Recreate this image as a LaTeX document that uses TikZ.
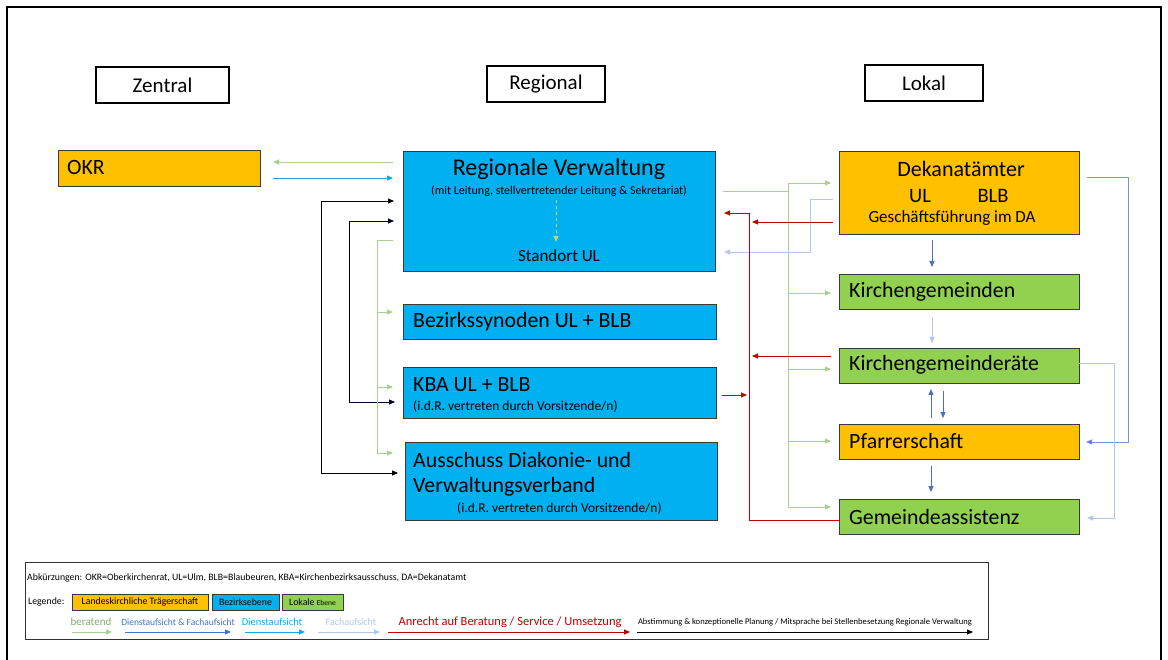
\documentclass[tikz,border=0pt]{standalone}
\usepackage{fontspec}
\setmainfont{Carlito}
\usetikzlibrary{arrows.meta,calc}

\definecolor{okrorange}{HTML}{FFC000}
\definecolor{bezblue}{HTML}{00B0F0}
\definecolor{lokgreen}{HTML}{92D050}
\definecolor{cberat}{HTML}{A9D18E}
\definecolor{cdfa}{HTML}{4472C4}
\definecolor{cdienst}{HTML}{1AA7E6}
\definecolor{cfach}{HTML}{B4C7E7}
\definecolor{canr}{HTML}{C00000}
\definecolor{cedge}{HTML}{3A3A3A}
\definecolor{cdash}{HTML}{BCD67A}

\newcommand\szhead{\fontsize{21}{25}\selectfont}
\newcommand\szbox{\fontsize{21.8}{26}\selectfont}
\newcommand\sztitle{\fontsize{24}{28}\selectfont}
\newcommand\szsub{\fontsize{12}{14}\selectfont}
\newcommand\szsubb{\fontsize{13.5}{16}\selectfont}
\newcommand\szmid{\fontsize{17}{20}\selectfont}
\newcommand\szleg{\fontsize{9.8}{12}\selectfont}

\tikzset{
  lvl/.style={draw=cedge, line width=0.9pt, inner sep=0pt, outer sep=0pt, anchor=north west},
  hdr/.style={draw=black, line width=1.3pt, inner sep=0pt, outer sep=0pt, anchor=north west, font=\szhead},
  lbl/.style={inner sep=0pt, anchor=west, font=\szbox},
  ctr/.style={inner sep=0pt, anchor=center},
  tip/.style={-{Triangle[length=6pt,width=5pt]}},
  ber/.style={draw=cberat, line width=0.9pt},
  dfa/.style={draw=cdfa, line width=0.9pt},
  fach/.style={draw=cfach, line width=0.9pt},
  anr/.style={draw=canr, line width=0.9pt},
  abst/.style={draw=black, line width=0.9pt},
  legtxt/.style={inner sep=0pt, anchor=center, font=\szleg},
}

\begin{document}
\begin{tikzpicture}[x=1pt,y=-1pt]
\useasboundingbox (0,0) rectangle (1168,660);
\fill[white] (0,0) rectangle (1168,660);

% outer frame
\draw[line width=1.5pt] (7,662) -- (7,7) -- (1161,7) -- (1161,662);

% level headings
\node[hdr, minimum width=133, minimum height=36] (hz) at (96,67) {Zentral};
\node[hdr, minimum width=118, minimum height=36] (hr) at (487,66) {Regional};
\node[hdr, minimum width=118, minimum height=36] (hl) at (865,65) {Lokal};

% central level
\node[lvl, fill=okrorange, minimum width=202, minimum height=36] (okr) at (58,150) {};
\node[lbl] (okrt) at (67,168) {OKR};

% regional level
\node[lvl, fill=bezblue, minimum width=312, minimum height=120] (rv) at (403,151) {};
\node[ctr, font=\sztitle] (rvt) at (559,169) {Regionale Verwaltung};
\node[ctr, font=\szsub] (rvs) at (559,191) {(mit Leitung, stellvertretender Leitung \& Sekretariat)};
\node[ctr, font=\szmid] (rvu) at (559,256) {Standort UL};

\node[lvl, fill=bezblue, minimum width=313, minimum height=35] (bez) at (403,304) {};
\node[lbl] (bezt) at (413,322) {Bezirkssynoden UL + BLB};

\node[lvl, fill=bezblue, minimum width=313, minimum height=51] (kba) at (403,367) {};
\node[lbl] (kbat) at (413,385) {KBA UL + BLB};
\node[lbl, font=\szsubb] (kbas) at (413,406) {(i.d.R. vertreten durch Vorsitzende/n)};

\node[lvl, fill=bezblue, minimum width=312, minimum height=78] (aus) at (405,442) {};
\node[lbl] (aust) at (413,460) {Ausschuss Diakonie- und};
\node[lbl] (ausu) at (413,487) {Verwaltungsverband};
\node[lbl, font=\szsubb] (auss) at (457,508) {(i.d.R. vertreten durch Vorsitzende/n)};

% local level
\node[lvl, fill=okrorange, minimum width=240, minimum height=83] (dek) at (839,151) {};
\node[ctr, font=\fontsize{22}{26}\selectfont] (dekt) at (961,169) {Dekanatämter};
\node[ctr, font=\fontsize{20.5}{24}\selectfont] (deku) at (920,196) {UL};
\node[ctr, font=\fontsize{20.5}{24}\selectfont] (dekb) at (993,196) {BLB};
\node[ctr, font=\fontsize{17}{20}\selectfont] (dekg) at (952,218) {Geschäftsführung im DA};

\node[lvl, fill=lokgreen, minimum width=240, minimum height=35] (kg) at (839,274) {};
\node[lbl] (kgt) at (849,292) {Kirchengemeinden};
\node[lvl, fill=lokgreen, minimum width=240, minimum height=35] (kgr) at (839,348) {};
\node[lbl] (kgrt) at (849,365) {Kirchengemeinderäte};
\node[lvl, fill=okrorange, minimum width=240, minimum height=35] (pf) at (839,424) {};
\node[lbl] (pft) at (849,441) {Pfarrerschaft};
\node[lvl, fill=lokgreen, minimum width=240, minimum height=35] (ga) at (839,499) {};
\node[lbl] (gat) at (849,517) {Gemeindeassistenz};

% OKR <-> regional administration
\draw[ber, tip] ($(rv.north west)+(-10,11)$) -- ($(okr.north east)+(13,12)$);
\draw[draw=cdienst, line width=0.9pt, tip] ($(okr.north east)+(13,28)$) -- ($(rv.north west)+(-10,27)$);

% internal dashed link
\draw[draw=cdash, line width=1pt, dashed, tip] ($(rv.north west)+(153,49)$) -- ($(rv.north west)+(153,91)$);

% coordination lines (black)
\draw[abst, {Triangle[length=6pt,width=5pt]}-{Triangle[length=6pt,width=5pt]}]
  ($(rv.north west)+(-9,50)$) -| ($(aus.north west)+(-84,31)$) -- ($(aus.north west)+(-7,31)$);
\draw[draw=black!85!blue, line width=0.9pt, {Triangle[length=6pt,width=5pt]}-{Triangle[length=6pt,width=5pt]}]
  ($(rv.north west)+(-9,70)$) -| ($(kba.north west)+(-54,35)$) -- ($(kba.north west)+(-8,35)$);

% advisory lines, left bus
\draw[ber] ($(rv.north west)+(-10,89)$) -| ($(aus.north west)+(-28,11)$);
\draw[ber, tip] ($(bez.north west)+(-26,8)$) -- ($(bez.north west)+(-10,8)$);
\draw[ber, tip] ($(kba.north west)+(-26,20)$) -- ($(kba.north west)+(-10,20)$);
\draw[ber, tip] ($(aus.north west)+(-28,11)$) -- ($(aus.north west)+(-12,11)$);

% advisory lines, right bus
\draw[ber] ($(rv.north east)+(8,40)$) -- ($(dek.north west)+(-51,40)$);
\draw[ber] ($(dek.north west)+(-51,32)$) -- ($(ga.north west)+(-51,8)$);
\draw[ber, tip] ($(dek.north west)+(-51,32)$) -- ($(dek.north west)+(-8,32)$);
\draw[ber, tip] ($(kg.north west)+(-51,19)$) -- ($(kg.north west)+(-8,19)$);
\draw[ber, tip] ($(kgr.north west)+(-51,21)$) -- ($(kgr.north west)+(-8,21)$);
\draw[ber, tip] ($(pf.north west)+(-51,17)$) -- ($(pf.north west)+(-8,17)$);
\draw[ber, tip] ($(ga.north west)+(-51,8)$) -- ($(ga.north west)+(-8,8)$);

% technical supervision towards the regional administration
\draw[fach, tip] ($(dek.north west)+(-6,48)$) -- ++(-23,0) |- ($(rv.north east)+(9,101)$);

% entitlement to service (red)
\draw[anr, tip] ($(ga.north west)+(0,21)$) -| ($(rv.north east)+(34,62)$) -- ($(rv.north east)+(9,62)$);
\draw[anr, tip] ($(dek.north west)+(-6,71)$) -- ($(rv.north east)+(37,71)$);
\draw[anr, tip] ($(kgr.north west)+(-8,8)$) -- ($(rv.north east)+(37,205)$);
\draw[anr, tip] ($(kba.north east)+(6,28)$) -- ($(kba.north east)+(31,28)$);

% supervision within the local level
\draw[dfa, tip] ($(dek.south west)+(93,6)$) -- ($(kg.north west)+(93,-7)$);
\draw[fach, tip] ($(kg.south west)+(93,8)$) -- ($(kgr.north west)+(93,-5)$);
\draw[dfa, tip] ($(pf.north west)+(92,-6)$) -- ($(kgr.south west)+(92,6)$);
\draw[dfa, tip] ($(kgr.south west)+(104,8)$) -- ($(pf.north west)+(104,-6)$);
\draw[dfa, tip] ($(pf.south west)+(92,7)$) -- ($(ga.north west)+(92,-7)$);
\draw[draw=cdfa!75!white, line width=0.9pt, -{Triangle[length=6pt,width=5pt,fill=cdfa]}]
  ($(dek.north east)+(8,26)$) -- ++(41,0) |- ($(pf.north east)+(7,18)$);
\draw[fach, tip] ($(kgr.north east)+(0,15)$) -- ++(35,0) |- ($(ga.north east)+(8,19)$);

% legend
\node[draw=black!80, line width=0.9pt, inner sep=0pt, anchor=north west, minimum width=963, minimum height=77] (leg) at (25,562) {};
\node[inner sep=0pt, anchor=west, font=\szleg] (abk) at (27,578) {Abkürzungen: OKR=Oberkirchenrat, UL=Ulm, BLB=Blaubeuren, KBA=Kirchenbezirksausschuss, DA=Dekanatamt};
\node[inner sep=0pt, anchor=west, font=\szleg] (lgd) at (28,602) {Legende:};
\node[lvl, fill=okrorange, minimum width=136, minimum height=16, font=\szleg] (sw1) at (72,594) {Landeskirchliche Trägerschaft};
\node[lvl, fill=bezblue, minimum width=67, minimum height=16, font=\szleg] (sw2) at (212,594) {Bezirksebene};
\node[lvl, fill=lokgreen, minimum width=61, minimum height=16, font=\szleg] (sw3) at (282,594) {Lokale {\fontsize{7.5}{8}\selectfont Ebene}};

\node[legtxt, text=cberat!80!black, font=\fontsize{11}{13}\selectfont] (t1) at (91,622) {beratend};
\node[legtxt, text=cdfa, font=\fontsize{9.5}{12}\selectfont] (t2) at (178,622) {Dienstaufsicht \& Fachaufsicht};
\node[legtxt, text=cdienst, font=\fontsize{10.5}{13}\selectfont] (t3) at (272,622) {Dienstaufsicht};
\node[legtxt, text=cfach, font=\fontsize{10}{12}\selectfont] (t4) at (351,622) {Fachaufsicht};
\node[legtxt, text=canr, font=\fontsize{12.5}{15}\selectfont] (t5) at (510,622) {Anrecht auf Beratung / Service / Umsetzung};
\node[legtxt, font=\fontsize{8.6}{10}\selectfont] (t6) at (805,622) {Abstimmung \& konzeptionelle Planung / Mitsprache bei Stellenbesetzung Regionale Verwaltung};

\coordinate (a1) at (72,632);  \coordinate (b1) at (112,632);
\coordinate (a2) at (125,632); \coordinate (b2) at (231,632);
\coordinate (a3) at (245,632); \coordinate (b3) at (305,632);
\coordinate (a4) at (318,632); \coordinate (b4) at (380,632);
\coordinate (a5) at (388,632); \coordinate (b5) at (630,632);
\coordinate (a6) at (637,632); \coordinate (b6) at (973,632);
\draw[ber, tip] (a1) -- (b1);
\draw[dfa, tip] (a2) -- (b2);
\draw[draw=cdienst, line width=0.9pt, tip] (a3) -- (b3);
\draw[fach, tip] (a4) -- (b4);
\draw[anr, tip] (a5) -- (b5);
\draw[abst, tip] (a6) -- (b6);
\end{tikzpicture}
\end{document}
